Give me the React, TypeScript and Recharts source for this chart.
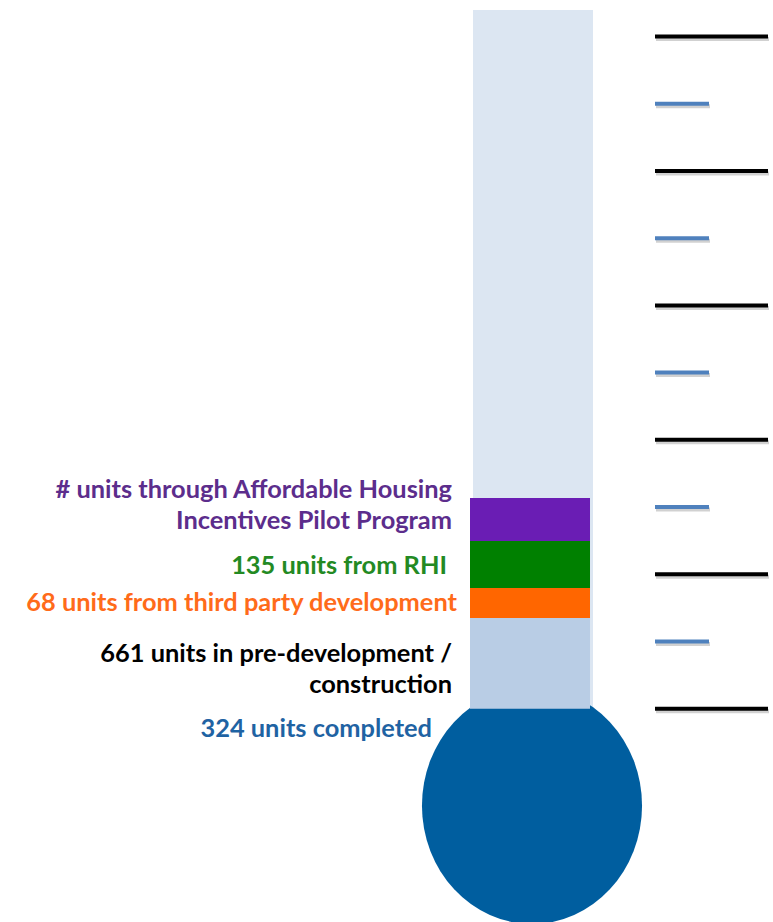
import React from 'react';
import { ComposedChart, Bar, XAxis, YAxis, LabelList } from 'recharts';

// Display heights, in tick intervals (0 = bottom of the tube).
const categories = ['Housing units'];
const tubeHeight = [5.197];
const completedHeight = [-1.586];
const preDevHeight = [0.675];
const thirdPartyHeight = [0.223];
const rhiHeight = [0.35];
const ahipHeight = [0.32];

const completedLabel = ['324 units completed'];
const preDevLabel = ['661 units in pre-development /', 'construction'];
const thirdPartyLabel = ['68 units from third party development'];
const rhiLabel = ['135 units from RHI'];
const ahipLabel = ['# units through Affordable Housing', 'Incentives Pilot Program'];

const tickValues = [0, 0.5, 1, 1.5, 2, 2.5, 3, 3.5, 4, 4.5, 5];
const majorTickValues = [0, 1, 2, 3, 4, 5];

const data = categories.map((name, i) => ({
  name,
  tube: tubeHeight[i],
  completed: completedHeight[i],
  preDev: preDevHeight[i],
  thirdParty: thirdPartyHeight[i],
  rhi: rhiHeight[i],
  ahip: ahipHeight[i],
}));

const FONT = 'Lato, "Open Sans", sans-serif';
const FONT_SIZE = 25.4;
const LINE_H = 31;

function makeLabel(lines: string[], color: string, dxRight: number, baselineOffset: number) {
  return (props: any) => {
    const vb = props.viewBox || {};
    const x = props.x ?? vb.x;
    const y = props.y ?? vb.y;
    const height = props.height ?? vb.height ?? 0;
    const top = height < 0 ? y + height : y;
    return (
      <text
        x={x - dxRight}
        y={top + baselineOffset}
        textAnchor="end"
        fill={color}
        fontFamily={FONT}
        fontWeight={700}
        fontSize={FONT_SIZE}
      >
        {lines.map((l, i) => (
          <tspan key={i} x={x - dxRight} dy={i === 0 ? 0 : LINE_H}>
            {l}
          </tspan>
        ))}
      </text>
    );
  };
}

const Bulb = (props: any) => {
  const { x, y, width, height } = props;
  const top = height < 0 ? y + height : y;
  const h = Math.abs(height);
  const bottom = top + h;
  const ry = h * 0.555;
  const rx = width * 0.917;
  return <ellipse cx={x + width / 2 + 2} cy={bottom - ry + 2} rx={rx} ry={ry} fill="#005E9F" />;
};

const TubeTick = (props: any) => {
  const { x, y, payload } = props;
  const major = majorTickValues.includes(payload.value);
  const x1 = x + 62;
  const x2 = major ? x + 175 : x + 116;
  return (
    <g>
      <line x1={x1 + 1} y1={y + 2.5} x2={x2 + 1} y2={y + 2.5} stroke="rgba(0,0,0,0.18)" strokeWidth={4} />
      <line x1={x1} y1={y} x2={x2} y2={y} stroke={major ? '#000000' : '#4F81BD'} strokeWidth={4} />
    </g>
  );
};

export default function App() {
  return (
    <div style={{ position: 'absolute', left: 0, top: 0, background: '#fff' }}>
      <ComposedChart
        width={773}
        height={922}
        data={data}
        margin={{ top: 10, right: 0, bottom: 0, left: 470 }}
        barCategoryGap={0}
        barGap={0}
        stackOffset="sign"
      >
        <XAxis xAxisId="tube" dataKey="name" hide padding={{ left: 3, right: 0 }} />
        <XAxis xAxisId="main" dataKey="name" hide padding={{ left: 0, right: 3 }} />
        <YAxis
          orientation="right"
          width={180}
          type="number"
          domain={[-1.586, 5.197]}
          ticks={tickValues}
          interval={0}
          axisLine={false}
          tickLine={false}
          tickSize={0}
          tickMargin={0}
          tick={<TubeTick />}
          allowDataOverflow
        />
        <Bar xAxisId="tube" dataKey="tube" fill="#DCE6F2" isAnimationActive={false} />
        <Bar xAxisId="main" dataKey="completed" stackId="s" shape={<Bulb />} isAnimationActive={false}>
          <LabelList content={makeLabel(completedLabel, '#1F63A3', 38, 28)} />
        </Bar>
        <Bar xAxisId="main" dataKey="preDev" stackId="s" fill="#B9CDE5" isAnimationActive={false}>
          <LabelList content={makeLabel(preDevLabel, '#000000', 18, 44)} />
        </Bar>
        <Bar xAxisId="main" dataKey="thirdParty" stackId="s" fill="#FF6600" isAnimationActive={false}>
          <LabelList content={makeLabel(thirdPartyLabel, '#FF6B1A', 13, 23)} />
        </Bar>
        <Bar xAxisId="main" dataKey="rhi" stackId="s" fill="#008000" isAnimationActive={false}>
          <LabelList content={makeLabel(rhiLabel, '#238A23', 23, 33)} />
        </Bar>
        <Bar xAxisId="main" dataKey="ahip" stackId="s" fill="#6A1DB4" isAnimationActive={false}>
          <LabelList content={makeLabel(ahipLabel, '#5C2D8C', 18, 0)} />
        </Bar>
      </ComposedChart>
    </div>
  );
}
